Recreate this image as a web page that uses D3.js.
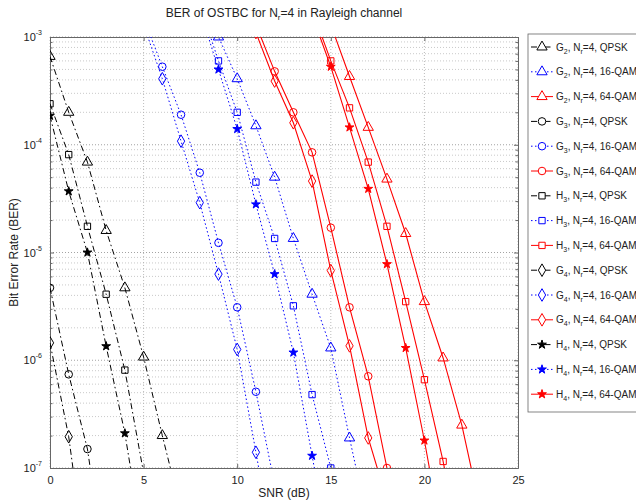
<!DOCTYPE html>
<html>
<head>
<meta charset="utf-8">
<script src="https://cdn.jsdelivr.net/npm/d3@7"></script>
<style>
body { margin: 0; background: #fff; }
text { font-family: "Liberation Sans", Arial, sans-serif; fill: #222; }
</style>
</head>
<body>
<div id="chart"></div>
<script>
// BER values (points below 1e-7 only set where the line leaves the box)
var snrG2Q = [0, 1, 2, 3, 4, 5, 6, 7];
var berG2Q = [6.6e-4, 2.0e-4, 6.9e-5, 1.6e-5, 4.7e-6, 1.07e-6, 2.0e-7, 4e-8];
var snrG3Q = [0, 1, 2, 3];
var berG3Q = [4.7e-6, 7.4e-7, 1.5e-7, 1e-8];
var snrH3Q = [0, 1, 2, 3, 4, 5];
var berH3Q = [2.4e-4, 8.1e-5, 1.75e-5, 4.1e-6, 8.1e-7, 9e-8];
var snrG4Q = [0, 1, 2];
var berG4Q = [1.45e-6, 1.95e-7, 1e-8];
var snrH4Q = [0, 1, 2, 3, 4, 5];
var berH4Q = [1.86e-4, 3.7e-5, 1.0e-5, 1.35e-6, 2.1e-7, 1.8e-8];

var snrG2_16 = [8, 9, 10, 11, 12, 13, 14, 15, 16, 17];
var berG2_16 = [3e-3, 1.0e-3, 4.1e-4, 1.5e-4, 5.0e-5, 1.35e-5, 4.1e-6, 1.3e-6, 1.9e-7, 3e-8];
var snrG3_16 = [5, 6, 7, 8, 9, 10, 11, 12];
var berG3_16 = [1.5e-3, 5.3e-4, 1.9e-4, 5.5e-5, 1.23e-5, 3.1e-6, 5.1e-7, 7e-8];
var snrH3_16 = [8, 9, 10, 11, 12, 13, 14, 15, 16];
var berH3_16 = [2e-3, 6.0e-4, 2.0e-4, 4.5e-5, 1.35e-5, 3.2e-6, 4.8e-7, 1.0e-7, 1.5e-8];
var snrG4_16 = [5, 6, 7, 8, 9, 10, 11, 12];
var berG4_16 = [1.3e-3, 4.1e-4, 1.08e-4, 2.9e-5, 6.3e-6, 1.26e-6, 1.4e-7, 1.5e-8];
var snrH4_16 = [8, 9, 10, 11, 12, 13, 14, 15];
var berH4_16 = [1.8e-3, 5.0e-4, 1.4e-4, 2.8e-5, 6.3e-6, 1.18e-6, 1.3e-7, 1.5e-8];

var snrG2_64 = [15, 16, 17, 18, 19, 20, 21, 22, 23];
var berG2_64 = [1.3e-3, 4.3e-4, 1.45e-4, 4.8e-5, 1.5e-5, 3.5e-6, 1.05e-6, 2.5e-7, 4e-8];
var snrG3_64 = [11, 12, 13, 14, 15, 16, 17, 18];
var berG3_64 = [1.3e-3, 4.8e-4, 2.0e-4, 8.5e-5, 1.7e-5, 3.1e-6, 7.1e-7, 1.0e-7];
var snrH3_64 = [14, 15, 16, 17, 18, 19, 20, 21, 22];
var berH3_64 = [1.8e-3, 6e-4, 2.2e-4, 6.9e-5, 1.75e-5, 3.5e-6, 6.6e-7, 1.15e-7, 1.5e-8];
var snrG4_64 = [11, 12, 13, 14, 15, 16, 17, 18];
var berG4_64 = [1.1e-3, 3.9e-4, 1.6e-4, 4.6e-5, 6.8e-6, 1.36e-6, 1.9e-7, 5e-8];
var snrH4_64 = [14, 15, 16, 17, 18, 19, 20, 21];
var berH4_64 = [1.6e-3, 5.3e-4, 1.45e-4, 3.9e-5, 7.8e-6, 1.3e-6, 1.8e-7, 2e-8];

var xTicks = [0, 5, 10, 15, 20, 25];
var yExps = [-3, -4, -5, -6, -7];
var codeNames = ["G", "G", "H", "G", "H"];
var codeSubs = ["2", "3", "3", "4", "4"];
var modNames = ["QPSK", "16-QAM", "64-QAM"];

var colors = { "QPSK": "#000", "16-QAM": "#0000ff", "64-QAM": "#ff0000" };
var dashes = { "QPSK": "6,3,1.5,3", "16-QAM": "1.5,2.5", "64-QAM": null };
var symbols = [d3.symbolTriangle, d3.symbolCircle, d3.symbolSquare, d3.symbolDiamond, d3.symbolStar];

var snrSets = [
  [snrG2Q, snrG2_16, snrG2_64],
  [snrG3Q, snrG3_16, snrG3_64],
  [snrH3Q, snrH3_16, snrH3_64],
  [snrG4Q, snrG4_16, snrG4_64],
  [snrH4Q, snrH4_16, snrH4_64]
];
var berSets = [
  [berG2Q, berG2_16, berG2_64],
  [berG3Q, berG3_16, berG3_64],
  [berH3Q, berH3_16, berH3_64],
  [berG4Q, berG4_16, berG4_64],
  [berH4Q, berH4_16, berH4_64]
];

var series = [];
codeNames.forEach(function (c, i) {
  modNames.forEach(function (m, j) {
    series.push({
      code: c, sub: codeSubs[i], mod: m, sym: symbols[i],
      pts: snrSets[i][j].map(function (s, k) { return { snr: s, ber: berSets[i][j][k] }; })
    });
  });
});

var W = 636, H = 504;
var margin = { top: 37, right: 118, bottom: 36, left: 50 },
    width = W - margin.left - margin.right,
    height = H - margin.top - margin.bottom;

var x = d3.scaleLinear().domain([0, 25]).range([0, width]);
var y = d3.scaleLog().domain([1e-7, 1e-3]).range([height, 0]);

var svg = d3.select("#chart").append("svg")
    .attr("width", W).attr("height", H);

svg.append("text")
    .attr("x", margin.left + width / 2).attr("y", 17)
    .attr("text-anchor", "middle").style("font-size", "12px")
    .call(function (t) {
      t.append("tspan").text("BER of OSTBC for N");
      t.append("tspan").attr("dy", 3).style("font-size", "8px").text("r");
      t.append("tspan").attr("dy", -3).text("=4 in Rayleigh channel");
    });

var g = svg.append("g").attr("transform", "translate(" + margin.left + "," + margin.top + ")");

// grid
var minor = [];
for (var e = -7; e < -3; e++) {
  for (var k = 2; k <= 9; k++) minor.push(k * Math.pow(10, e));
}
g.selectAll(".ygm").data(minor).enter().append("line")
    .attr("x1", 0).attr("x2", width)
    .attr("y1", function (d) { return y(d); }).attr("y2", function (d) { return y(d); })
    .attr("stroke", "#bbb").attr("stroke-width", 0.8).attr("stroke-dasharray", "1,2");
g.selectAll(".ygM").data(yExps).enter().append("line")
    .attr("x1", 0).attr("x2", width)
    .attr("y1", function (d) { return y(Math.pow(10, d)); }).attr("y2", function (d) { return y(Math.pow(10, d)); })
    .attr("stroke", "#999").attr("stroke-width", 0.9).attr("stroke-dasharray", "1,2");
g.selectAll(".xg").data(xTicks).enter().append("line")
    .attr("x1", function (d) { return x(d); }).attr("x2", function (d) { return x(d); })
    .attr("y1", 0).attr("y2", height)
    .attr("stroke", "#aaa").attr("stroke-width", 0.8).attr("stroke-dasharray", "1,2");

// axes
var xAxis = g.append("g").attr("transform", "translate(0," + height + ")")
    .call(d3.axisBottom(x).tickValues(xTicks).tickSizeInner(-4).tickSizeOuter(0).tickPadding(8));
var xTop = g.append("g")
    .call(d3.axisTop(x).tickValues(xTicks).tickSizeInner(-4).tickSizeOuter(0).tickFormat(""));
var yAxis = g.append("g")
    .call(d3.axisLeft(y).tickValues(minor).tickSizeInner(-2.5).tickSizeOuter(0).tickFormat(""));
var yAxisR = g.append("g").attr("transform", "translate(" + width + ",0)")
    .call(d3.axisRight(y).tickValues(minor).tickSizeInner(-2.5).tickSizeOuter(0).tickFormat(""));
var yMaj = g.append("g")
    .call(d3.axisLeft(y).tickValues(yExps.map(function (d) { return Math.pow(10, d); }))
      .tickSizeInner(-4).tickSizeOuter(0).tickPadding(6).tickFormat(""));
var yMajR = g.append("g").attr("transform", "translate(" + width + ",0)")
    .call(d3.axisRight(y).tickValues(yExps.map(function (d) { return Math.pow(10, d); }))
      .tickSizeInner(-4).tickSizeOuter(0).tickFormat(""));
[xAxis, xTop, yAxis, yAxisR, yMaj, yMajR].forEach(function (a) {
  a.select(".domain").attr("stroke", "#666");
  a.selectAll(".tick line").attr("stroke", "#666");
});
xAxis.selectAll(".tick text").style("font-size", "11px").attr("fill", "#222");

// y tick labels 10^e
yExps.forEach(function (ex) {
  var t = g.append("text")
      .attr("x", -8).attr("y", y(Math.pow(10, ex)) + 4)
      .attr("text-anchor", "end").style("font-size", "11px");
  t.append("tspan").text("10");
  t.append("tspan").attr("dy", -6).style("font-size", "7px").text(String(ex));
});

svg.append("text")
    .attr("x", margin.left + width / 2).attr("y", 497)
    .attr("text-anchor", "middle").style("font-size", "12px").text("SNR (dB)");
svg.append("text")
    .attr("transform", "translate(18," + (margin.top + height / 2) + ") rotate(-90)")
    .attr("text-anchor", "middle").style("font-size", "12px").text("Bit Error Rate (BER)");

// curves
g.append("clipPath").attr("id", "clip").append("rect")
    .attr("width", width).attr("height", height);
var plot = g.append("g").attr("clip-path", "url(#clip)");

var line = d3.line()
    .x(function (d) { return x(d.snr); })
    .y(function (d) { return y(d.ber); });

function markerPath(sym) {
  var size = sym === d3.symbolStar ? 24 : sym === d3.symbolCircle ? 45 : sym === d3.symbolSquare ? 40 : 46;
  return d3.symbol().type(sym).size(size)();
}

series.forEach(function (s) {
  var col = colors[s.mod];
  plot.append("path").datum(s.pts)
      .attr("d", line).attr("fill", "none")
      .attr("stroke", col).attr("stroke-width", s.mod === "64-QAM" ? 1.1 : 1)
      .attr("stroke-dasharray", dashes[s.mod]);
  plot.selectAll(null).data(s.pts).enter().append("path")
      .attr("transform", function (d) { return "translate(" + x(d.snr) + "," + y(d.ber) + ")"; })
      .attr("d", markerPath(s.sym))
      .attr("fill", s.sym === d3.symbolStar ? col : "none")
      .attr("stroke", col).attr("stroke-width", 1);
});

// legend
var lx = 528, ly = 34, step = 24.8;
svg.append("rect")
    .attr("x", lx).attr("y", ly).attr("width", 140).attr("height", 378)
    .attr("fill", "#fff").attr("stroke", "#666").attr("stroke-width", 0.8);
series.forEach(function (s, i) {
  var cy = ly + 13 + i * step, col = colors[s.mod];
  svg.append("line")
      .attr("x1", lx + 3).attr("x2", lx + 25).attr("y1", cy).attr("y2", cy)
      .attr("stroke", col).attr("stroke-width", 1)
      .attr("stroke-dasharray", dashes[s.mod]);
  svg.append("path")
      .attr("transform", "translate(" + (lx + 14) + "," + cy + ")")
      .attr("d", markerPath(s.sym))
      .attr("fill", s.sym === d3.symbolStar ? col : "#fff")
      .attr("stroke", col);
  var t = svg.append("text").attr("x", lx + 28).attr("y", cy + 3.5).style("font-size", "10px");
  t.append("tspan").text(s.code);
  t.append("tspan").attr("dy", 3).style("font-size", "7px").text(s.sub);
  t.append("tspan").attr("dy", -3).text(", N");
  t.append("tspan").attr("dy", 3).style("font-size", "7px").text("r");
  t.append("tspan").attr("dy", -3).text("=4, " + s.mod);
});
</script>
</body>
</html>
